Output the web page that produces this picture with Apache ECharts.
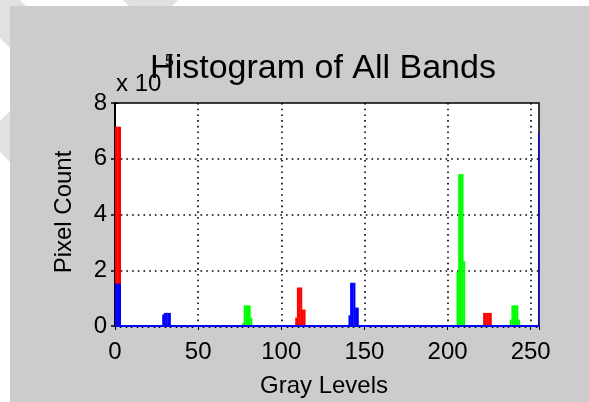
<!DOCTYPE html>
<html>
<head>
<meta charset="utf-8">
<script src="https://cdn.jsdelivr.net/npm/echarts@6/dist/echarts.min.js"></script>
<style>
html,body{margin:0;padding:0;background:#fff;}
#chart{width:589px;height:402px;}
</style>
</head>
<body>
<div id="chart"></div>
<script>
// ---- data (pixel counts per gray level) ----
const xTicks = [0, 50, 100, 150, 200, 250];
const yTicks = [0, 2, 4, 6, 8];           // x 10^5
const grayMin = 0, grayMax = 255;
const countMax = 800000;

const redLevels  = [0, 1, 2, 3, 109, 110, 111, 112, 113, 114, 222, 223, 224, 225, 226];
const redCounts  = [715000, 715000, 715000, 715000, 30000, 138000, 138000, 138000, 59000, 59000, 47000, 47000, 47000, 47000, 47000];

const greenLevels = [77, 78, 79, 80, 81, 82, 206, 207, 208, 209, 210, 238, 239, 240, 241, 242, 243];
const greenCounts = [10000, 74000, 74000, 74000, 74000, 30000, 194000, 545000, 545000, 545000, 233000, 23000, 74000, 74000, 74000, 74000, 23000];

const blueLevels = [0, 1, 2, 3, 29, 30, 31, 32, 33, 141, 142, 143, 144, 145, 146, 255];
const blueCounts = [152000, 152000, 152000, 152000, 41000, 47000, 47000, 47000, 47000, 38000, 155000, 155000, 155000, 66000, 66000, 694000];

const FONT = 'Liberation Sans';

function pairs(levels, counts){ return levels.map((l,i)=>[l, counts[i]]); }

function barItem(color){
  return function(params, api){
    const x = api.value(0), y = api.value(1);
    const p0 = api.coord([x - 0.6, y]);
    const p1 = api.coord([x + 0.6, 0]);
    const cs = params.coordSys;
    const r = echarts.graphic.clipRectByRect(
      {x: p0[0], y: p0[1], width: p1[0] - p0[0], height: p1[1] - p0[1]},
      {x: cs.x, y: cs.y, width: cs.width, height: cs.height});
    return r && {type: 'rect', shape: r, style: {fill: color}};
  };
}

const chart = echarts.init(document.getElementById('chart'), null, {renderer: 'canvas'});

const dotted = {color: '#000', width: 1.6, type: [1.6, 4.1]};

chart.setOption({
  backgroundColor: '#ffffff',
  animation: false,
  grid: {left: 115, top: 103, width: 424, height: 223, show: true,
         backgroundColor: '#ffffff', borderColor: '#000', borderWidth: 1.5},
  xAxis: [
    {type: 'value', position: 'bottom', min: grayMin, max: grayMax, interval: 50,
     axisLine: {show: true, lineStyle: {color: '#000', width: 2}},
     axisTick: {show: true, inside: false, length: 3, lineStyle: {color: '#000'}},
     minorTick: {show: true, splitNumber: 15, length: 2, lineStyle: {color: '#000', width: 1.3}},
     axisLabel: {show: true, color: '#000', fontFamily: FONT, fontSize: 24, margin: 14, showMaxLabel: false,
                 formatter: v => xTicks.indexOf(v) >= 0 ? String(v) : ''},
     splitLine: {show: true, lineStyle: dotted, showMinLine: false, showMaxLine: false}},
    {type: 'value', position: 'top', min: grayMin, max: grayMax, interval: 50,
     axisLine: {show: true, lineStyle: {color: '#000', width: 1.5}},
     axisTick: {show: true, inside: true, length: 4, lineStyle: {color: '#000'}},
     minorTick: {show: true, splitNumber: 15, length: 2, lineStyle: {color: '#000', width: 1.3}},
     axisLabel: {show: false}, splitLine: {show: false}}
  ],
  yAxis: [
    {type: 'value', position: 'left', min: 0, max: countMax, interval: 200000,
     axisLine: {show: true, lineStyle: {color: '#000', width: 2}},
     axisTick: {show: true, inside: true, length: 4, lineStyle: {color: '#000'}},
     axisLabel: {color: '#000', fontFamily: FONT, fontSize: 24, margin: 8, padding: [7, 0, 0, 0],
                 formatter: v => String(v / 100000)},
     splitLine: {show: true, lineStyle: dotted, showMinLine: false, showMaxLine: false}},
    {type: 'value', position: 'right', min: 0, max: countMax, interval: 200000,
     axisLine: {show: true, lineStyle: {color: '#000', width: 1.5}},
     axisTick: {show: true, inside: true, length: 4, lineStyle: {color: '#000', width: 1.5}},
     axisLabel: {show: false}, splitLine: {show: false}}
  ],
  series: [
    {name: 'Red', type: 'custom', xAxisIndex: 0, yAxisIndex: 0, encode: {x: 0, y: 1},
     renderItem: barItem('#ff0000'), data: pairs(redLevels, redCounts), z: 12},
    {name: 'Green', type: 'custom', xAxisIndex: 0, yAxisIndex: 0, encode: {x: 0, y: 1},
     renderItem: barItem('#00ff00'), data: pairs(greenLevels, greenCounts), z: 13},
    {name: 'Blue', type: 'custom', xAxisIndex: 0, yAxisIndex: 0, encode: {x: 0, y: 1},
     renderItem: barItem('#0000ff'), data: pairs(blueLevels, blueCounts), z: 14},
    {name: 'BlueBase', type: 'line', xAxisIndex: 0, yAxisIndex: 0, data: [[grayMin, 0], [grayMax, 0]],
     symbol: 'none', clip: false, silent: true, z: 15,
     lineStyle: {color: '#0000ff', width: 2}}
  ],
  graphic: [
    {type: 'rect', z: -10, silent: true, shape: {x: 10, y: 6, width: 579, height: 396}, style: {fill: '#cccccc'}},
    {type: 'polygon', z: -10, silent: true, shape: {points: [[0,0],[20,0],[26,6],[10,6],[10,48],[0,38]]}, style: {fill: '#e1e1e1'}},
    {type: 'polygon', z: -10, silent: true, shape: {points: [[0,121],[10,111],[10,162],[0,152]]}, style: {fill: '#e1e1e1'}},
    {type: 'polygon', z: -10, silent: true, shape: {points: [[123,0],[178,0],[172,6],[129,6]]}, style: {fill: '#e1e1e1'}},
    {type: 'text', z: 50, silent: true, x: 116, y: 84,
     style: {text: 'x 10', fontFamily: FONT, fontSize: 24, fill: '#000', textAlign: 'left', textVerticalAlign: 'middle'}},
    {type: 'text', z: 50, silent: true, x: 165, y: 62,
     style: {text: '5', fontFamily: FONT, fontSize: 16, fill: '#000', textAlign: 'left', textVerticalAlign: 'middle'}},
    {type: 'text', z: 60, silent: true, x: 323, y: 68.5,
     style: {text: 'Histogram of All Bands', fontFamily: FONT, fontSize: 34, fill: '#000', textAlign: 'center', textVerticalAlign: 'middle'}},
    {type: 'text', z: 50, silent: true, x: 64, y: 212, rotation: Math.PI / 2,
     style: {text: 'Pixel Count', fontFamily: FONT, fontSize: 24, fill: '#000', textAlign: 'center', textVerticalAlign: 'middle'}},
    {type: 'text', z: 50, silent: true, x: 324, y: 386,
     style: {text: 'Gray Levels', fontFamily: FONT, fontSize: 24, fill: '#000', textAlign: 'center', textVerticalAlign: 'middle'}}
  ]
});
</script>
</body>
</html>
